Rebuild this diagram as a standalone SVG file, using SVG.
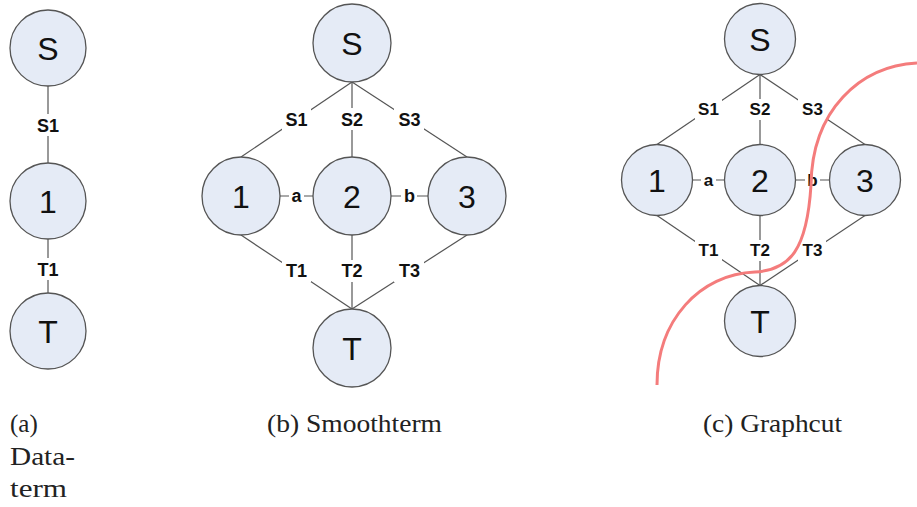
<svg xmlns="http://www.w3.org/2000/svg" width="917" height="507" viewBox="0 0 917 507">
<style>
.n circle{fill:#e5ebf6;stroke:#555;stroke-width:1.3}
.n text{font-family:"Liberation Sans",Arial,sans-serif;font-size:32px;fill:#111;text-anchor:middle}
.e line{stroke:#555;stroke-width:1.2}
.lb rect{fill:#fff}
.lb text{font-family:"Liberation Sans",Arial,sans-serif;font-weight:bold;font-size:18px;fill:#111;text-anchor:middle}
.lc text{font-size:17px}
.cap{font-family:"Liberation Serif","Times New Roman",serif;font-size:25px;fill:#222}
</style>
<rect width="917" height="507" fill="#fff"/>
<g id="connectors" class="e">
  <line x1="48" y1="86" x2="48" y2="163"/>
  <line x1="48" y1="239" x2="48" y2="293"/>
  <line x1="352" y1="82" x2="241" y2="157"/>
  <line x1="352" y1="82" x2="352" y2="157"/>
  <line x1="352" y1="82" x2="467" y2="157"/>
  <line x1="280" y1="196" x2="313" y2="196"/>
  <line x1="391" y1="196" x2="428" y2="196"/>
  <line x1="241" y1="235" x2="352" y2="309"/>
  <line x1="352" y1="235" x2="352" y2="309"/>
  <line x1="467" y1="235" x2="352" y2="309"/>
  <line x1="760" y1="74.5" x2="657" y2="144.5"/>
  <line x1="760" y1="74.5" x2="760" y2="144.5"/>
  <line x1="760" y1="74.5" x2="865" y2="144.5"/>
  <line x1="692.5" y1="180" x2="724.5" y2="180"/>
  <line x1="795.5" y1="180" x2="829.5" y2="180"/>
  <line x1="657" y1="215.5" x2="760" y2="285.5"/>
  <line x1="760" y1="215.5" x2="760" y2="285.5"/>
  <line x1="865" y1="215.5" x2="760" y2="285.5"/>
</g>
<g id="labels" class="lb">
  <rect x="34" y="114" width="28" height="22"/><text x="48" y="132">S1</text>
  <rect x="34" y="258" width="28" height="22"/><text x="48" y="276">T1</text>
  <rect x="282" y="108" width="29" height="22"/><text x="296.5" y="126">S1</text>
  <rect x="337" y="108" width="30" height="22"/><text x="352" y="126">S2</text>
  <rect x="394" y="108" width="30" height="22"/><text x="409.5" y="126">S3</text>
  <rect x="289" y="188" width="15" height="17"/><text x="296.5" y="202">a</text>
  <rect x="401" y="186" width="16" height="19"/><text x="409.5" y="202">b</text>
  <rect x="282" y="260" width="29" height="22"/><text x="296.5" y="277">T1</text>
  <rect x="337" y="260" width="30" height="22"/><text x="352" y="277">T2</text>
  <rect x="394" y="260" width="30" height="22"/><text x="409.5" y="277">T3</text>
  <g class="lc">
    <rect x="695" y="99" width="27" height="21"/><text x="708.5" y="115">S1</text>
    <rect x="746" y="99" width="28" height="21"/><text x="760" y="115">S2</text>
    <rect x="798" y="99" width="28" height="21"/><text x="812.5" y="115">S3</text>
    <rect x="701" y="173" width="15" height="15"/><text x="708.5" y="186">a</text>
    <rect x="805" y="171" width="15" height="17"/><text x="812.5" y="186">b</text>
    <rect x="695" y="240" width="27" height="21"/><text x="708.5" y="256">T1</text>
    <rect x="746" y="240" width="28" height="21"/><text x="760" y="256">T2</text>
    <rect x="798" y="240" width="28" height="21"/><text x="812.5" y="256">T3</text>
  </g>
</g>
<g id="a-S" class="n"><circle cx="48" cy="48" r="38"/><text x="48" y="59.5">S</text></g>
<g id="a-1" class="n"><circle cx="48" cy="201" r="38"/><text x="48" y="212.5">1</text></g>
<g id="a-T" class="n"><circle cx="48" cy="331" r="38"/><text x="48" y="342.5">T</text></g>
<g id="b-S" class="n"><circle cx="352" cy="43" r="39"/><text x="352" y="54.5">S</text></g>
<g id="b-1" class="n"><circle cx="241" cy="196" r="39"/><text x="241" y="207.5">1</text></g>
<g id="b-2" class="n"><circle cx="352" cy="196" r="39"/><text x="352" y="207.5">2</text></g>
<g id="b-3" class="n"><circle cx="467" cy="196" r="39"/><text x="467" y="207.5">3</text></g>
<g id="b-T" class="n"><circle cx="352" cy="348" r="39"/><text x="352" y="359.5">T</text></g>
<g id="c-S" class="n"><circle cx="760" cy="39" r="35.5"/><text x="760" y="50.5">S</text></g>
<g id="c-1" class="n"><circle cx="657" cy="180" r="35.5"/><text x="657" y="191.5">1</text></g>
<g id="c-2" class="n"><circle cx="760" cy="180" r="35.5"/><text x="760" y="191.5">2</text></g>
<g id="c-3" class="n"><circle cx="865" cy="180" r="35.5"/><text x="865" y="191.5">3</text></g>
<g id="c-T" class="n"><circle cx="760" cy="321" r="35.5"/><text x="760" y="332.5">T</text></g>
<path id="cut" d="M917,63 C860,66 812,110 811,185 C807,250 790,270 755,272 C700,274 657,320 657,385" fill="none" stroke="#f47c7c" stroke-width="3"/>
<g id="captions">
  <text class="cap" x="10" y="432">(a)</text>
  <text class="cap" x="10" y="465" textLength="65" lengthAdjust="spacingAndGlyphs">Data-</text>
  <text class="cap" x="10" y="497" textLength="57" lengthAdjust="spacingAndGlyphs">term</text>
  <text class="cap" x="267" y="432" textLength="175" lengthAdjust="spacingAndGlyphs">(b) Smoothterm</text>
  <text class="cap" x="703" y="432" textLength="139" lengthAdjust="spacingAndGlyphs">(c) Graphcut</text>
</g>
</svg>
